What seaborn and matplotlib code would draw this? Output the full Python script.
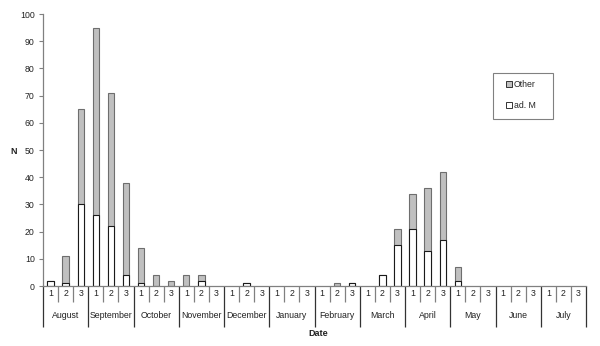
import matplotlib
matplotlib.use("Agg")
import matplotlib.pyplot as plt
from matplotlib.patches import Patch, Rectangle
import numpy as np
import pandas as pd
import seaborn as sns

# Ten-day periods (decades) per month, August to July
months = ["August", "September", "October", "November", "December", "January",
          "February", "March", "April", "May", "June", "July"]
decades = ["1", "2", "3"]

# Counts per decade: adult males and all other individuals
ad_m = [2, 1, 30, 26, 22, 4, 1, 0, 0, 0, 2, 0,
        0, 1, 0, 0, 0, 0, 0, 0, 1, 0, 4, 15,
        21, 13, 17, 2, 0, 0, 0, 0, 0, 0, 0, 0]
other = [0, 10, 35, 69, 49, 34, 13, 4, 2, 4, 2, 0,
         0, 0, 0, 0, 0, 0, 0, 1, 0, 0, 0, 6,
         13, 23, 25, 5, 0, 0, 0, 0, 0, 0, 0, 0]

y_ticks = list(range(0, 101, 10))

sns.set_theme(style="white")
plt.rcParams["font.family"] = ["Liberation Sans", "DejaVu Sans"]

periods = [f"{m[:3]}-{d}" for m in months for d in decades]
df = pd.DataFrame({"period": periods,
                   "ad_m": ad_m,
                   "other": other})
df["total"] = df["ad_m"] + df["other"]

W, H = 600, 346
fig = plt.figure(figsize=(W / 100, H / 100), dpi=100)
ax = fig.add_axes([43 / W, 1 - 286 / H, (586 - 43) / W, (286 - 14) / H])

axis_grey = "#808080"

# Stacked bars: full height in grey, adult males drawn over it in white
tot = df[df["total"] > 0]
sns.barplot(data=tot, x="period", y="total", order=periods, color="#c0c0c0",
            edgecolor="#6e6e6e", linewidth=0.8, width=0.42, saturation=1,
            ax=ax)
am = df[df["ad_m"] > 0]
sns.barplot(data=am, x="period", y="ad_m", order=periods, color="white",
            edgecolor="#1a1a1a", linewidth=0.8, width=0.42, saturation=1,
            ax=ax)

ax.set_xlim(-0.5, len(periods) - 0.5)
ax.set_ylim(0, 100)
ax.set_yticks(y_ticks)
ax.set_yticklabels([str(v) for v in y_ticks], fontsize=6.3, color="#222222")
ax.tick_params(axis="y", direction="out", length=3, width=0.8, color=axis_grey,
               pad=3, left=True)
ax.set_xticks([])
ax.set_xlabel("")
ax.set_ylabel("")
for s in ["top", "right"]:
    ax.spines[s].set_visible(False)
for s in ["left", "bottom"]:
    ax.spines[s].set_color(axis_grey)
    ax.spines[s].set_linewidth(0.9)

# Two-level category axis: decade numbers, then month names
trans = ax.get_xaxis_transform()
px = 1 / (286 - 14)  # one pixel in axes units (vertical)
y_num = -8 * px
y_mon = -30 * px
y_short = -16 * px
y_long = -41 * px
for i, p in enumerate(periods):
    ax.text(i, y_num, p.split("-")[1], transform=trans, ha="center",
            va="center", fontsize=6.3, color="#222222")
for k, m in enumerate(months):
    ax.text(3 * k + 1, y_mon, m, transform=trans, ha="center", va="center",
            fontsize=6.3, color="#222222")
for j in range(len(periods) + 1):
    x = j - 0.5
    low = y_long if j % 3 == 0 else y_short
    col = "#333333" if j % 3 == 0 else axis_grey
    ax.plot([x, x], [0, low], transform=trans, color=col, lw=0.9,
            clip_on=False, solid_capstyle="butt")

fig.text(318 / W, 1 - 334 / H, "Date", ha="center", va="center",
         fontsize=6.5, fontweight="bold", color="#222222")
fig.text(14 / W, 1 - 151 / H, "N", ha="center", va="center",
         fontsize=6.5, fontweight="bold", color="#222222")

# Legend box with the entries set in its middle
fig.patches.append(Rectangle((493 / W, 1 - 119 / H), 60 / W, 46 / H,
                             transform=fig.transFigure, facecolor="white",
                             edgecolor=axis_grey, linewidth=0.8, zorder=5))
handles = [Patch(facecolor="#c0c0c0", edgecolor="#333333", linewidth=0.7,
                 label="Other"),
           Patch(facecolor="white", edgecolor="#333333", linewidth=0.7,
                 label="ad. M")]
leg = fig.legend(handles=handles, loc="center",
                 bbox_to_anchor=(521 / W, 1 - 95 / H),
                 fontsize=6.3, frameon=False,
                 handlelength=0.6, handleheight=0.6, handletextpad=0.25,
                 labelspacing=1.35, borderpad=0)
leg.set_zorder(6)

fig.savefig("out.png", dpi=100)
